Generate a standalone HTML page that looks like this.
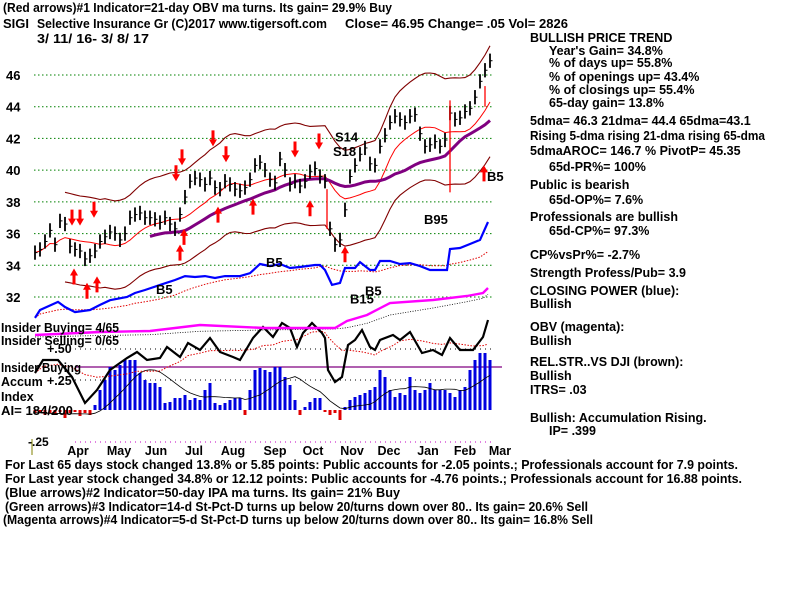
<!DOCTYPE html>
<html><head><meta charset="utf-8"><style>
html,body{margin:0;padding:0;background:#fff;}
svg{display:block;font-family:"Liberation Sans",sans-serif;font-weight:bold;}
</style></head><body>
<svg id="c" width="800" height="600" viewBox="0 0 800 600">
<g font-size="13">
<text x="3" y="12" textLength="389" lengthAdjust="spacingAndGlyphs">(Red arrows)#1 Indicator=21-day OBV ma turns. Its gain= 29.9% Buy</text>
<text x="3" y="28">SIGI</text>
<text x="37" y="28" textLength="290" lengthAdjust="spacingAndGlyphs">Selective Insurance Gr  (C)2017 www.tigersoft.com</text>
<text x="345" y="28" textLength="223" lengthAdjust="spacingAndGlyphs">Close=  46.95  Change= .05 Vol= 2826</text>
<text x="37" y="43" textLength="112" lengthAdjust="spacingAndGlyphs">3/ 11/ 16- 3/ 8/ 17</text>
</g>
<g id="yaxis" font-size="13"></g>
<g id="grid"></g>
<g id="plot"></g>
<g font-size="12.5">
<text x="1" y="332" textLength="118" lengthAdjust="spacingAndGlyphs">Insider Buying= 4/65</text>
<text x="1" y="345" textLength="118" lengthAdjust="spacingAndGlyphs">Insider Selling= 0/65</text>
<text x="47" y="353">+.50</text>
<text x="1" y="372" textLength="80" lengthAdjust="spacingAndGlyphs">Insider Buying</text>
<text x="1" y="386">Accum</text>
<text x="47" y="385">+.25</text>
<text x="1" y="401">Index</text>
<text x="1" y="415" textLength="72" lengthAdjust="spacingAndGlyphs">AI= 184/200</text>
<text x="28" y="446" font-size="12">-.25</text>
</g>
<g id="months" font-size="12.5"></g>
<g font-size="12.5">
<text x="530" y="42">BULLISH PRICE TREND</text>
<text x="549" y="55">Year's Gain= 34.8%</text>
<text x="549" y="67">% of days up= 55.8%</text>
<text x="549" y="81">% of openings up= 43.4%</text>
<text x="549" y="94">% of closings up= 55.4%</text>
<text x="549" y="107">65-day gain= 13.8%</text>
<text x="530" y="125">5dma= 46.3 21dma= 44.4 65dma=43.1</text>
<text x="530" y="140" textLength="235" lengthAdjust="spacingAndGlyphs">Rising 5-dma rising 21-dma rising 65-dma</text>
<text x="530" y="155">5dmaAROC= 146.7 %  PivotP= 45.35</text>
<text x="549" y="171">65d-PR%= 100%</text>
<text x="530" y="189">Public is bearish</text>
<text x="549" y="204">65d-OP%= 7.6%</text>
<text x="530" y="221">Professionals are bullish</text>
<text x="549" y="235">65d-CP%= 97.3%</text>
<text x="530" y="259">CP%vsPr%= -2.7%</text>
<text x="530" y="277">Strength Profess/Pub= 3.9</text>
<text x="530" y="295">CLOSING POWER (blue):</text>
<text x="530" y="308">Bullish</text>
<text x="530" y="331">OBV (magenta):</text>
<text x="530" y="345">Bullish</text>
<text x="530" y="366">REL.STR..VS DJI (brown):</text>
<text x="530" y="380">Bullish</text>
<text x="530" y="394">ITRS= .03</text>
<text x="530" y="422">Bullish: Accumulation Rising.</text>
<text x="549" y="435">IP=  .399</text>
</g>
<g font-size="12.5">
<text x="5" y="469" textLength="733" lengthAdjust="spacingAndGlyphs">For Last 65 days stock changed  13.8% or  5.85 points:  Public accounts for -2.05 points.;  Professionals account for  7.9 points.</text>
<text x="5" y="483" textLength="737" lengthAdjust="spacingAndGlyphs">For Last year stock changed  34.8% or  12.12 points:  Public accounts for -4.76 points.;  Professionals account for  16.88 points.</text>
<text x="5" y="497" textLength="395" lengthAdjust="spacingAndGlyphs">(Blue arrows)#2 Indicator=50-day IPA ma turns. Its gain= 21% Buy</text>
<text x="5" y="511" textLength="583" lengthAdjust="spacingAndGlyphs">(Green arrows)#3 Indicator=14-d St-Pct-D turns up below 20/turns down over 80.. Its gain= 20.6% Sell</text>
<text x="3" y="524" textLength="590" lengthAdjust="spacingAndGlyphs">(Magenta arrows)#4 Indicator=5-d St-Pct-D turns up below 20/turns down over 80.. Its gain= 16.8% Sell</text>
</g>
</svg>
<script>
const priceTicks=[46,44,42,40,38,36,34,32];
const months=["Apr","May","Jun","Jul","Aug","Sep","Oct","Nov","Dec","Jan","Feb","Mar"];
const monthT=[8.6,16.8,24.2,31.8,39.6,48,55.6,63.4,70.8,78.6,86,93];
const closes=[34.8,35.0,35.5,36.2,35.3,36.8,36.6,35.2,35.0,34.9,34.4,34.6,34.9,35.5,35.8,36.1,36.0,35.6,36.0,37.0,37.2,37.3,37.0,37.0,36.9,36.7,37.0,36.6,36.3,37.2,38.3,39.3,39.5,39.4,39.1,39.5,38.9,38.8,39.3,39.1,38.8,38.7,38.9,39.4,40.3,40.5,40.0,39.4,39.2,40.7,40.0,39.1,39.3,39.0,39.3,39.9,40.1,39.6,39.3,36.3,35.3,35.6,37.5,39.6,40.3,41.0,41.4,40.4,40.3,41.5,42.2,43.0,43.4,43.2,43.0,43.4,43.5,42.3,41.5,41.6,41.8,41.5,41.9,43.6,43.2,43.3,43.7,43.9,44.6,45.6,46.3,46.9];
const cpT=[0,1,4.6,6,8,11,13,15,18.4,20,22,25,28,30,32,34,36,38,41,43,45,47,49,51,53,56,57,58,59.4,61,62,64,65,67,68,69,71,73,75,77,79,81,82.4,83,85,87,89,90.6];
const cpVals=[30.68,31.18,31.69,31.37,31.05,31.18,31.5,31.8,32.0,32.25,32.44,32.76,33.07,33.32,33.26,33.32,33.2,33.32,33.32,33.5,34.08,33.95,34.08,33.83,33.89,34.02,34.02,33.7,32.76,32.88,33.83,33.83,34.2,33.7,33.7,34.27,34.27,34.08,34.14,33.95,33.7,33.7,33.7,35.03,35.09,35.34,35.6,36.73];
const obvT=[0,13,23,33,46,60,62.4,66.4,71,79.6,86.4,89.6,90.6];
const obvVals=[3,6,7,13,10,10,17,23,35,38,42,45,50];
const rsT=[0,1.6,4.6,7.4,10,12.4,15,18.4,20.4,22.4,25,26.4,29,30.6,33,35,37,39.6,41,43.6,45.6,47.6,49.4,51,52.4,53.6,55.4,57.4,58,58.6,60,61.4,62.6,64,65.4,67,68,69,71.6,73,75,77.4,79.6,81.4,83,85,87.6,89.6,90.6];
const rsVals=[27,40,40,23,-3,10,30,42,48,40,42,53,43,57,50,62,48,43,40,62,73,63,77,72,53,67,77,67,62,30,18,23,55,60,70,53,50,60,65,60,68,47,50,45,62,50,50,63,80];
const aiVals=[-3,-2,-5,-3,-5,-2,-8,-3,-2,-6,-3,-5,5,20,30,43,40,45,50,50,50,37,30,27,27,23,7,8,12,12,15,10,12,10,20,27,7,5,7,10,12,12,-5,20,40,42,40,38,43,43,33,25,10,-5,3,8,12,12,-2,-5,-3,-10,3,10,13,15,17,20,23,40,33,20,13,17,15,33,20,17,20,27,20,20,20,17,13,20,23,40,50,57,57,50];
const upArrowT=[7.8,10.4,12.4,29,29.8,36.6,43.6,55,62,89.8];
const upArrowP=[33.8,32.9,33.3,35.3,36.3,37.7,38.2,38.1,35.2,40.3];
const downArrowT=[7.4,9,11.8,28.2,29.4,35.6,38.2,52,56.8];
const downArrowP=[36.5,36.5,37.0,39.3,40.3,41.5,40.5,40.8,41.3];
const spikeT=[58.4,83,90];
const spikeHi=[38.8,44.4,45.3];
const spikeLo=[36.3,38.6,44.0];
const sigLabels=["B5","B5","B5","B5","S14","S18","B95","B15"];
const sigT=[24.2,46.2,66,90.4,60,59.6,77.8,63];
const sigP=[32.2,33.9,32.1,39.3,41.8,40.9,36.6,31.6];

const NS="http://www.w3.org/2000/svg";
const tx=t=>35+t*5;
const py=p=>75+(46-p)*15.857;
const oy=v=>338-v;
const ry=v=>400-v;
const ay=v=>410-v;
function mk(tag,attrs,parent){const e=document.createElementNS(NS,tag);for(const k in attrs)e.setAttribute(k,attrs[k]);parent.appendChild(e);return e;}
function ma(arr,n){return arr.map((_,i)=>{const s=arr.slice(Math.max(0,i-n+1),i+1);return s.reduce((a,b)=>a+b,0)/s.length;});}
function pts(ts,vs,fy){return ts.map((t,i)=>tx(t).toFixed(1)+","+fy(vs[i]).toFixed(1)).join(" ");}
const plot=document.getElementById('plot'),grid=document.getElementById('grid'),yaxis=document.getElementById('yaxis'),mon=document.getElementById('months');
const idx=closes.map((_,i)=>i);

priceTicks.forEach(p=>{
  const l=mk('line',{x1:34,x2:492,y1:py(p),y2:py(p),stroke:'#008000','stroke-dasharray':'1.5,2.5','stroke-width':1},grid);
  
  
  const t=mk('text',{x:6,y:py(p)+5},yaxis);t.textContent=p;
  
  
});
[[349,'#000',75],[380,'#000',75],[442,'#c000c0',75]].forEach(d=>{
  const l=mk('line',{x1:d[2],x2:492,y1:d[0],y2:d[0],stroke:d[1],'stroke-dasharray':'1,4'},grid);
  
  
});
const hl=mk('line',{x1:75,x2:502,y1:367,y2:367,stroke:'#800080','stroke-width':1.3},grid);


const ol=mk('line',{x1:32,x2:32,y1:439,y2:455,stroke:'#808000'},grid);


months.forEach((m,i)=>{const t=mk('text',{x:tx(monthT[i]),y:455,'text-anchor':'middle'},mon);t.textContent=m;
  
  });

aiVals.forEach((v,i)=>{
  const r=mk('rect',{x:tx(i)-1.5,width:3,y:Math.min(ay(v),ay(0)),height:Math.abs(v),fill:v>=0?'#0000e0':'#e00000'},plot);
  
  
});
const aiMa=mk('polyline',{points:pts(idx,ma(aiVals,10),ay),fill:'none',stroke:'#000','stroke-width':0.8},plot);



const rsMaL=mk('polyline',{points:pts(rsT,ma(rsVals,8),ry),fill:'none',stroke:'#e00000','stroke-width':1,'stroke-dasharray':'1.5,1.5'},plot);


const rsL=mk('polyline',{points:pts(rsT,rsVals,ry),fill:'none',stroke:'#000','stroke-width':2.2},plot);



const obvMa=mk('polyline',{points:pts(obvT,ma(obvVals,3).map(v=>v-2),oy),fill:'none',stroke:'#000','stroke-width':0.8,'stroke-dasharray':'1,1.5'},plot);


const obvL=mk('polyline',{points:pts(obvT,obvVals,oy),fill:'none',stroke:'#ff00ff','stroke-width':2.4},plot);



const cpMa=mk('polyline',{points:pts(cpT,ma(cpVals,8),py),fill:'none',stroke:'#e00000','stroke-width':1,'stroke-dasharray':'1.5,1.5'},plot);


const cpL=mk('polyline',{points:pts(cpT,cpVals,py),fill:'none',stroke:'#0000ff','stroke-width':2.2},plot);



const ma21=ma(closes,10),ma65=ma(closes,24);
const bi=idx.slice(6);
const up=mk('polyline',{points:pts(bi,bi.map(i=>ma21[i]*1.08),py),fill:'none',stroke:'#800000','stroke-width':1.1},plot);


const lo=mk('polyline',{points:pts(bi,bi.map(i=>ma21[i]*0.922),py),fill:'none',stroke:'#800000','stroke-width':1.1},plot);


const m21=mk('polyline',{points:pts(idx,ma21,py),fill:'none',stroke:'#ff0000','stroke-width':1},plot);


const pi=idx.slice(23);
const m65=mk('polyline',{points:pts(pi,pi.map(i=>ma65[i]),py),fill:'none',stroke:'#800080','stroke-width':3},plot);



closes.forEach((c,i)=>{
  const x=tx(i);
  const b=mk('line',{x1:x,x2:x,y1:py(c+0.45),y2:py(c-0.45),stroke:'#000','stroke-width':1.8},plot);
  
  
  const k=mk('line',{x1:x,x2:x+2.5,y1:py(c),y2:py(c),stroke:'#000','stroke-width':1},plot);
  
  
});
spikeT.forEach((t,i)=>{
  const s=mk('line',{x1:tx(t),x2:tx(t),y1:py(spikeHi[i]),y2:py(spikeLo[i]),stroke:'#ff0000','stroke-width':1.3},plot);
  
  
});
function arrow(t,p,dir,color,name){
  const x=tx(t),y=py(p),d=dir;
  const g=mk('path',{d:`M${x},${y} l-4,${7*d} l2.5,0 l0,${9*d} l3,0 l0,${-9*d} l2.5,0 z`,fill:color},plot);
  
  
}
upArrowT.forEach((t,i)=>arrow(t,upArrowP[i],1,'#ff0000','buy-arrow'));
downArrowT.forEach((t,i)=>arrow(t,downArrowP[i],-1,'#ff0000','sell-arrow'));
sigLabels.forEach((s,i)=>{
  const t=mk('text',{x:tx(sigT[i]),y:py(sigP[i]),'font-size':13},plot);t.textContent=s;
  
  
});
</script>
</body></html>
